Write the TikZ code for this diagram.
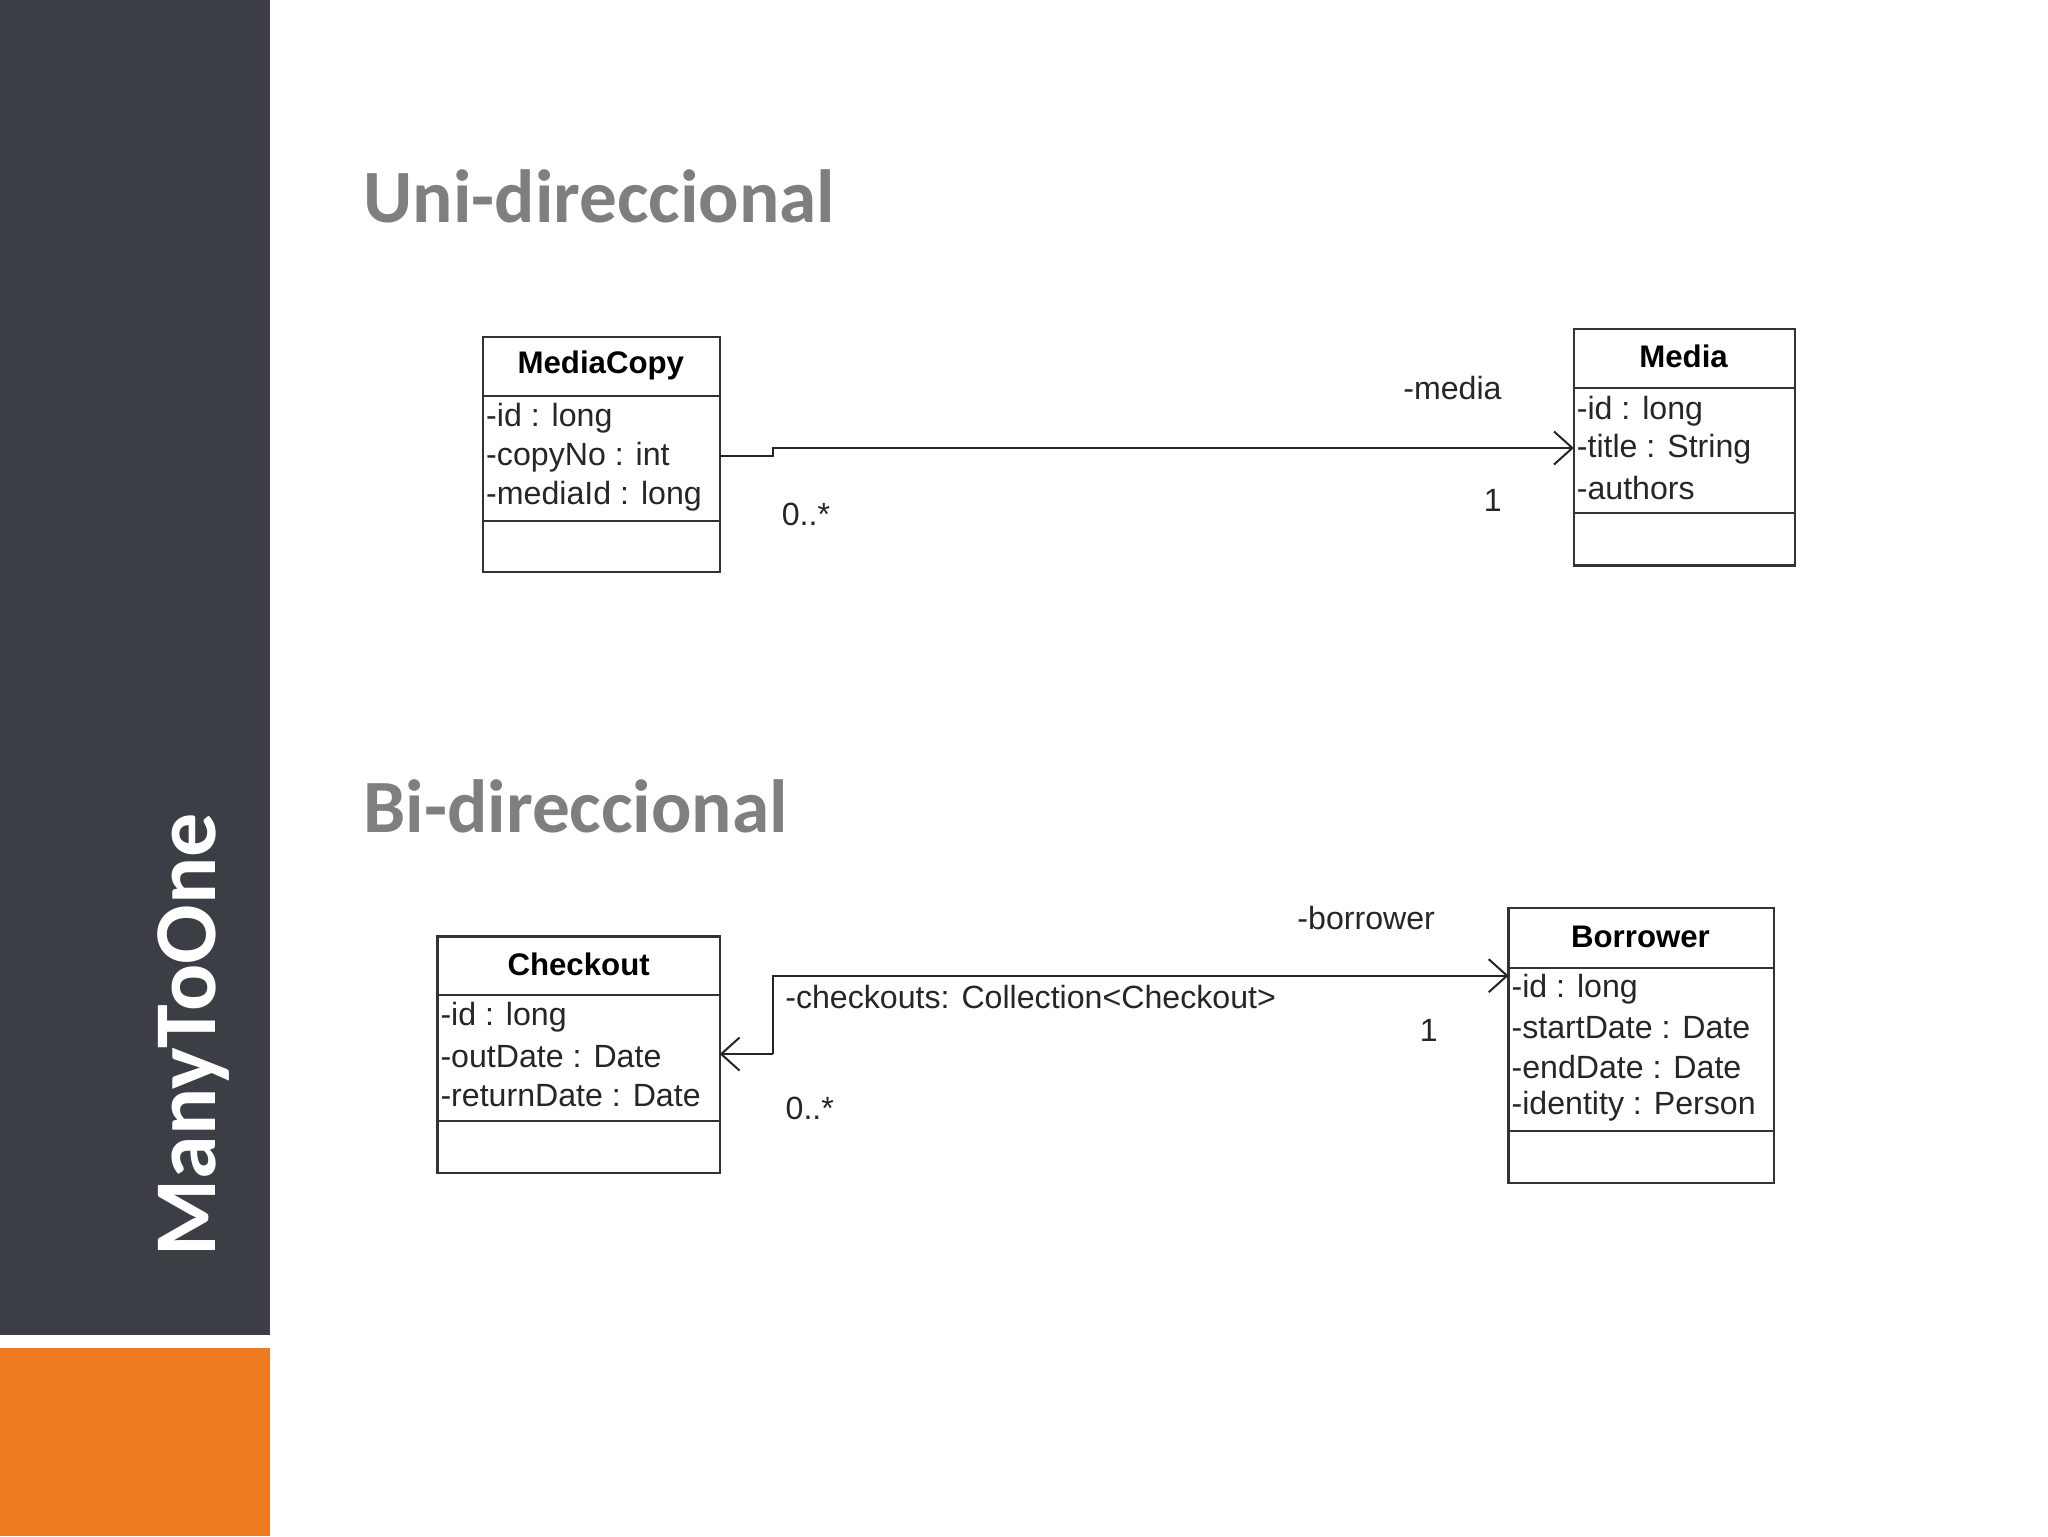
\documentclass[tikz,border=0pt]{standalone}
\usepackage{fontspec}
\setmainfont{Liberation Sans}
\newfontfamily\calib{Carlito}
\usetikzlibrary{arrows.meta}
\definecolor{side}{HTML}{3B3E44}
\definecolor{orng}{HTML}{F07A1F}
\definecolor{ttl}{HTML}{7F7F7F}
\tikzset{
 ubox/.style={draw=black!80,line width=1.2pt,inner sep=0pt},
 hd/.style={font=\fontsize{17}{19}\selectfont\bfseries,anchor=center},
 attr/.style={font=\fontsize{17.5}{19}\selectfont,anchor=west,inner sep=0pt,text=black!85},
 lb/.style={font=\fontsize{17.5}{19}\selectfont,inner sep=0pt,text=black!85},
 ttlst/.style={font=\calib\fontsize{41}{43}\selectfont\bfseries,text=ttl,anchor=base west,inner sep=0pt},
 assoc/.style={line width=1.1pt,black!85},
 tip/.style={-{Straight Barb[length=10pt,width=18pt,line width=1.1pt]}}
}
\begin{document}
\begin{tikzpicture}[x=0.25mm,y=-0.25mm]
\useasboundingbox (0,0) rectangle (1568,1176);
\fill[white] (0,0) rectangle (1568,1176);
\fill[side] (0,0) rectangle (207,1022);
\fill[orng] (0,1032) rectangle (207,1176);
\node[rotate=90,anchor=base west,text=white,inner sep=0pt,font=\calib\fontsize{48}{50}\selectfont\bfseries] (side) at (165,962) {ManyToOne};
\node[ttlst] (t1) at (278,170) {Uni-direccional};
\node[ttlst] (t2) at (278,637) {Bi-direccional};
% MediaCopy
\draw[ubox] (370,258) rectangle (551,438);
\draw[ubox] (370,303) -- (551,303) (370,399) -- (551,399);
\node[hd] (mch) at (460,280) {MediaCopy};
\node[attr] (mc1) at (372,320) {-id : long};
\node[attr] (mc2) at (372,350) {-copyNo : int};
\node[attr] (mc3) at (372,380) {-mediaId : long};
\coordinate (mcR) at (551,349);
% Media
\draw[ubox] (1205,252) rectangle (1374,433);
\draw[ubox] (1205,297) -- (1374,297) (1205,393) -- (1374,393);
\node[hd] (mh) at (1289,273) {Media};
\node[attr] (m1) at (1207,315) {-id : long};
\node[attr] (m2) at (1207,344) {-title : String};
\node[attr] (m3) at (1207,374) {-authors};
\coordinate (mL) at (1205,343);
\draw[assoc,tip] (mcR) -- (592,349) -- (592,343) -- (mL);
\node[lb] (l1) at (1112,297) {-media};
\node[lb] (l2) at (1143,383) {1};
\node[lb] (l3) at (617,394) {0..*};
% Checkout
\draw[ubox] (335,717) rectangle (551,898);
\draw[ubox] (335,762) -- (551,762) (335,858) -- (551,858);
\node[hd] (ch) at (443,738) {Checkout};
\node[attr] (c1) at (337,779) {-id : long};
\node[attr] (c2) at (337,809) {-outDate : Date};
\node[attr] (c3) at (337,839) {-returnDate : Date};
\coordinate (cR) at (551,807);
% Borrower
\draw[ubox] (1155,695) rectangle (1358,906);
\draw[ubox] (1155,741) -- (1358,741) (1155,866) -- (1358,866);
\node[hd] (bh) at (1256,717) {Borrower};
\node[attr] (b1) at (1157,757) {-id : long};
\node[attr] (b2) at (1157,787) {-startDate : Date};
\node[attr] (b3) at (1157,817) {-endDate : Date};
\node[attr] (b4) at (1157,847) {-identity : Person};
\coordinate (bL) at (1155,747);
\coordinate (cj) at (592,807);
\draw[assoc,tip] (cj) -- (cR);
\draw[assoc,tip] (cj) -- (592,747) -- (bL);
\node[lb] (l4) at (1046,703) {-borrower};
\node[lb,anchor=west] (l5) at (601,763) {-checkouts: Collection<Checkout>};
\node[lb] (l6) at (1094,789) {1};
\node[lb] (l7) at (620,849) {0..*};
\end{tikzpicture}
\end{document}
